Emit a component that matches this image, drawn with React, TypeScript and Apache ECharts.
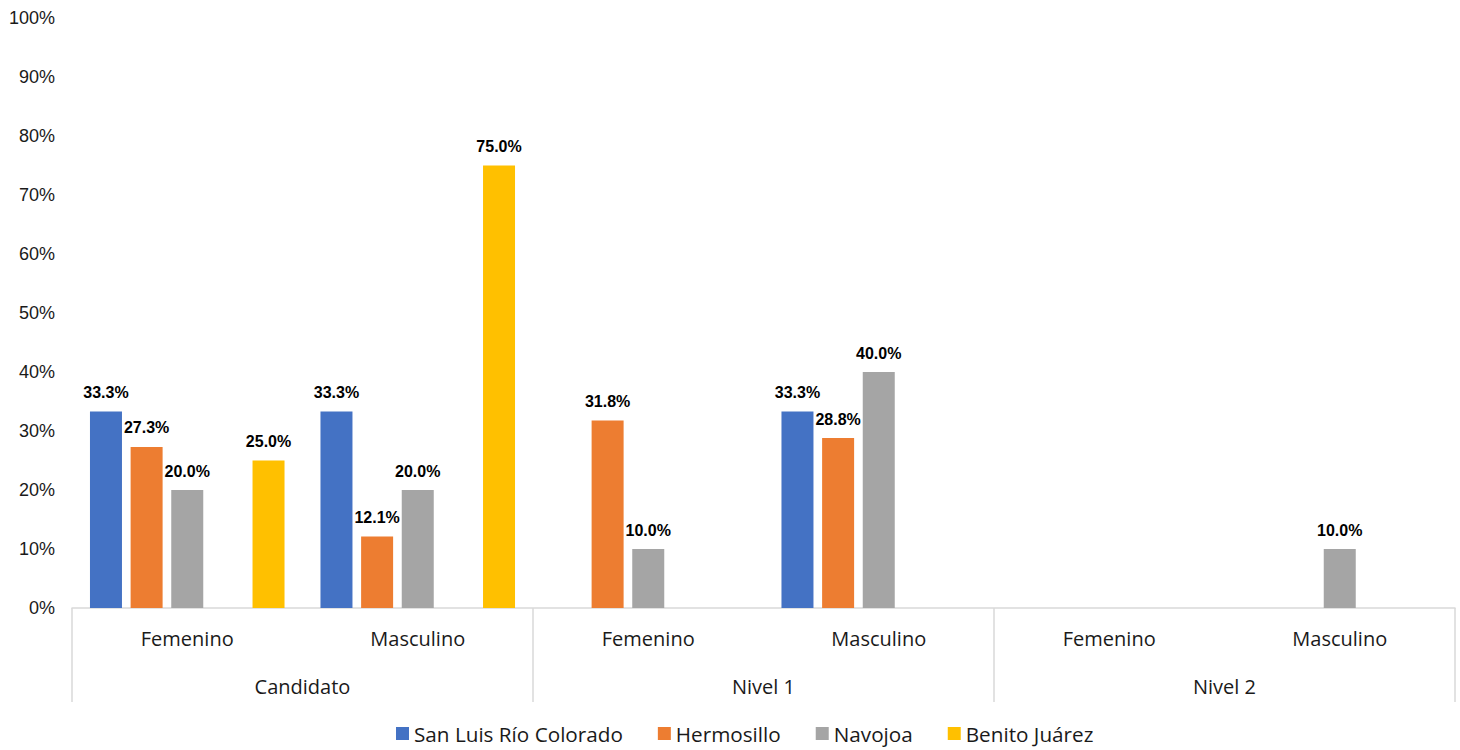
import React, { useEffect, useRef } from "react";
import * as echarts from "echarts";

const subCategories = ["Femenino", "Masculino", "Femenino", "Masculino", "Femenino", "Masculino"];
const groupCategories = ["Candidato", "Nivel 1", "Nivel 2"];
const yTicks = [0, 10, 20, 30, 40, 50, 60, 70, 80, 90, 100];

const seriesNames = ["San Luis Río Colorado", "Hermosillo", "Navojoa", "Benito Juárez"];
const sanLuis = [33.3, 33.3, null, 33.3, null, null];
const hermosillo = [27.3, 12.1, 31.8, 28.8, null, null];
const navojoa = [20.0, 20.0, 10.0, 40.0, null, 10.0];
const empty = [null, null, null, null, null, null];
const benitoJuarez = [25.0, 75.0, null, null, null, null];

const colors = ["#4472C4", "#ED7D31", "#A5A5A5", "#FFC000"];

export default function App() {
  const ref = useRef<HTMLDivElement>(null);
  useEffect(() => {
    if (!ref.current) return;
    const chart = echarts.init(ref.current, null, { renderer: "svg" });
    const labelCfg = {
      show: true,
      position: "top",
      distance: 11,
      fontFamily: "Liberation Sans, Arial, sans-serif",
      fontWeight: "bold",
      fontSize: 16,
      color: "#000",
      formatter: (p: any) => (p.value == null ? "" : `${Number(p.value).toFixed(1)}%`),
    };
    const mk = (name: string, data: (number | null)[], color: string) => ({
      name,
      type: "bar",
      data,
      barWidth: 32,
      barGap: "27%",
      itemStyle: { color },
      label: labelCfg,
    });
    chart.setOption({
      animation: false,
      grid: { left: 72, right: 5, top: 18, bottom: 142 },
      legend: {
        data: seriesNames,
        top: 718,
        left: 391,
        itemWidth: 13,
        itemHeight: 13,
        itemGap: 35,
        icon: "rect",
        textStyle: { fontFamily: "Open Sans", fontSize: 20.7, color: "#1a1a1a" },
      },
      xAxis: [
        {
          type: "category",
          data: subCategories,
          position: "bottom",
          axisLine: { show: true, lineStyle: { color: "#d9d9d9", width: 1.5 } },
          axisTick: { show: false },
          axisLabel: {
            margin: 20,
            fontFamily: "Open Sans",
            fontSize: 20,
            color: "#1a1a1a",
          },
        },
        {
          type: "category",
          data: groupCategories,
          position: "bottom",
          axisLine: { show: false },
          axisTick: { show: true, length: 94, lineStyle: { color: "#d9d9d9", width: 1.5 } },
          axisLabel: {
            margin: 68,
            fontFamily: "Open Sans",
            fontSize: 20,
            color: "#1a1a1a",
          },
        },
      ],
      yAxis: {
        type: "value",
        min: yTicks[0],
        max: yTicks[yTicks.length - 1],
        interval: 10,
        splitLine: { show: false },
        axisLine: { show: false },
        axisTick: { show: false },
        axisLabel: {
          margin: 17,
          fontFamily: "Liberation Sans, Arial, sans-serif",
          fontSize: 18,
          color: "#1a1a1a",
          formatter: (v: number) => `${v}%`,
        },
      },
      series: [
        mk(seriesNames[0], sanLuis, colors[0]),
        mk(seriesNames[1], hermosillo, colors[1]),
        mk(seriesNames[2], navojoa, colors[2]),
        mk("", empty, "#ffffff"),
        mk(seriesNames[3], benitoJuarez, colors[3]),
      ],
    });
    return () => chart.dispose();
  }, []);
  return <div ref={ref} style={{ width: 1460, height: 750, position: "absolute", left: 0, top: 0 }} />;
}
